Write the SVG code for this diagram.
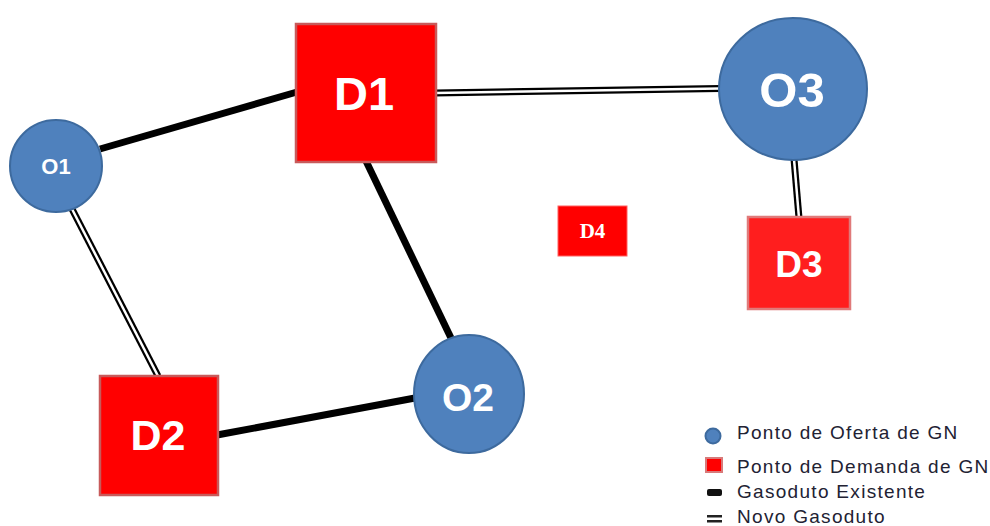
<svg xmlns="http://www.w3.org/2000/svg" width="990" height="526" viewBox="0 0 990 526">
  <style>
    .supply { fill: #4f81bd; stroke: #3d6a9e; stroke-width: 2; }
    .demand { fill: #ff0000; stroke: #c85a5a; stroke-width: 2.5; }
    .lbl { font-family: "Liberation Sans", Arial, sans-serif; font-weight: bold; fill: #ffffff; text-anchor: middle; }
    .existing { stroke: #000000; stroke-width: 7; stroke-linecap: butt; fill: none; }
    .new-outer { stroke: #000000; stroke-width: 7; fill: none; }
    .new-inner { stroke: #ffffff; stroke-width: 2.5; fill: none; }
    .legend { font-family: "Liberation Sans", Arial, sans-serif; font-size: 19px; fill: #222233; letter-spacing: 1.3px; }
  </style>
  <rect width="990" height="526" fill="#ffffff"/>

  <!-- pipelines -->
  <g id="connectors">
    <!-- existing pipelines -->
    <line class="existing" x1="100" y1="149" x2="297" y2="92"/>
    <line class="existing" x1="366" y1="161" x2="451" y2="338"/>
    <line class="existing" x1="217" y1="435" x2="415" y2="398"/>
    <!-- new pipelines (double line) -->
    <line class="new-outer" x1="72" y1="209" x2="158" y2="376"/>
    <line class="new-inner" x1="72" y1="209" x2="158" y2="376"/>
    <line class="new-outer" x1="435" y1="93" x2="720" y2="88.5"/>
    <line class="new-inner" x1="435" y1="93" x2="720" y2="88.5"/>
    <line class="new-outer" x1="794" y1="159" x2="799" y2="218"/>
    <line class="new-inner" x1="794" y1="159" x2="799" y2="218"/>
  </g>

  <g id="O1">
    <circle class="supply" cx="56" cy="166" r="46"/>
    <text class="lbl" x="56" y="174" font-size="22">O1</text>
  </g>
  <g id="D1">
    <rect class="demand" x="296" y="24" width="140" height="138"/>
    <text class="lbl" x="364" y="110" font-size="47">D1</text>
  </g>
  <g id="O3">
    <ellipse class="supply" cx="793" cy="89" rx="74" ry="71"/>
    <text class="lbl" x="792" y="107" font-size="49">O3</text>
  </g>
  <g id="D3">
    <rect class="demand" x="748" y="217" width="102" height="92" style="fill:#ff1e1e;stroke:#e07a7a"/>
    <text class="lbl" x="799" y="277" font-size="37">D3</text>
  </g>
  <g id="D4">
    <rect x="558" y="206" width="69" height="50" fill="#ff0000" stroke="#ff6060" stroke-width="1"/>
    <text x="592.5" y="238" font-family="Liberation Serif, 'Times New Roman', serif" font-weight="bold" font-size="21" fill="#ffffff" text-anchor="middle">D4</text>
  </g>
  <g id="O2">
    <ellipse class="supply" cx="469" cy="394" rx="55" ry="59"/>
    <text class="lbl" x="468" y="411" font-size="39">O2</text>
  </g>
  <g id="D2">
    <rect class="demand" x="100" y="376" width="118" height="119"/>
    <text class="lbl" x="158" y="450" font-size="43">D2</text>
  </g>

  <!-- legend -->
  <g id="legend">
    <circle class="supply" cx="713" cy="436" r="7.5"/>
    <rect x="706" y="458" width="16" height="14" fill="#ff0000" stroke="#d87a7a" stroke-width="2"/>
    <rect x="707" y="489" width="15" height="7" rx="2" fill="#111111"/>
    <rect x="707" y="515" width="15" height="2.5" fill="#222222"/>
    <rect x="707" y="520" width="15" height="2.5" fill="#222222"/>
    <text class="legend" x="737" y="439">Ponto de Oferta de GN</text>
    <text class="legend" x="737" y="473">Ponto de Demanda de GN</text>
    <text class="legend" x="737" y="498">Gasoduto Existente</text>
    <text class="legend" x="737" y="523">Novo Gasoduto</text>
  </g>
</svg>
